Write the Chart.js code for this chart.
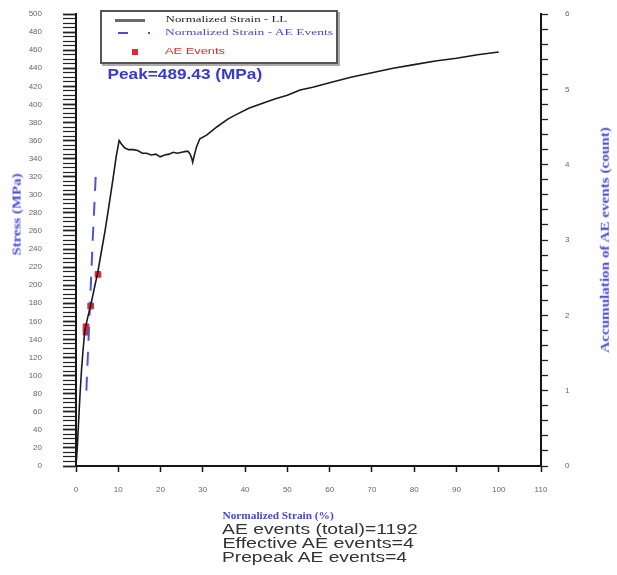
<!DOCTYPE html>
<html>
<head>
<meta charset="utf-8">
<script src="https://cdn.jsdelivr.net/npm/chart.js@4.4.0/dist/chart.umd.min.js"></script>
<style>
  body { margin: 0; background: #fff; }
  #wrap { position: relative; width: 617px; height: 575px; overflow: hidden; }
  #chart { position: absolute; left: 0; top: 0; }
  .lbl { position: absolute; white-space: nowrap; line-height: 1; transform-origin: center center; }
  #legend { position: absolute; left: 100px; top: 10px; width: 238px; height: 54px; box-sizing: border-box;
            border: 2px solid #555; box-shadow: 2px 2px 0 #aaa; background: #fff; }
  .sw { position: absolute; }
</style>
</head>
<body>
<div id="wrap">
  <canvas id="chart" width="617" height="575"></canvas>
  <div id="legend">
    <div class="sw" style="left:13px;top:7px;width:30px;height:3px;background:#6b6b6b"></div>
    <div class="sw" style="left:16px;top:20px;width:10px;height:2px;background:#4b4bdc"></div>
    <div class="sw" style="left:46px;top:20px;width:2px;height:2px;background:#4b4bdc"></div>
    <div class="sw" style="left:30px;top:37px;width:6px;height:6px;background:#e8262e"></div>
  </div>
</div>
<script>
// stress-strain curve (LL)
const strainLL = [0, 0.3, 0.55, 0.9, 1.3, 1.7, 2.1, 2.8, 3.5, 4.3, 5.1, 6.0, 6.9, 7.8, 8.7, 9.5, 10.2, 10.8, 11.5,
  12.4, 13.5, 14.6, 15.7, 16.7, 17.8, 18.9, 19.9, 21.0, 22.0, 23.0, 24.0, 25.0, 26.0, 26.5, 27.0, 27.4, 27.6, 27.9,
  28.5, 29.3, 30.9, 33.3, 36, 38, 41, 44, 47, 50, 53, 56, 60, 65, 70, 75, 80, 85, 90, 95, 100];
const stressLL = [0, 20, 43, 75, 106, 130, 150, 165, 178, 196, 213, 237, 261, 288, 316, 342, 360, 356, 352,
  350, 350, 349, 346, 346, 344, 345, 342, 344, 345, 347, 346, 347, 348, 348, 345, 340, 336, 342,
  353, 362, 366, 375, 384, 389, 396, 401, 406, 410, 416, 419, 424, 430, 435, 440, 444, 448, 451, 455, 458];

// cumulative AE events (right axis)
const aeCumStrain = [2.45, 3.2, 3.95, 4.73];
const aeCount = [1, 2, 3, 3.93];

// AE event markers on the curve
const aeStrain = [2.36, 2.36, 3.47, 5.2];
const aeStress = [154, 148, 177, 212];

const xTicksMax = 110;
const yTicksMax = 500;
const y1TicksMax = 6;

const pts = (xs, ys) => xs.map((x, i) => ({ x: x, y: ys[i] }));
const axisColor = '#151515';
const tickFont = { family: 'Liberation Sans', size: 8 };

// fixed box sizes so the plot area sits where it does in the original
const fitSide = (s) => { s.width = 76; s.paddingTop = 0; s.paddingBottom = 0; };

const chart = new Chart(document.getElementById('chart').getContext('2d'), {
  type: 'scatter',
  data: {
    datasets: [
      {
        label: 'Normalized Strain - LL',
        data: pts(strainLL, stressLL),
        showLine: true,
        borderColor: '#1a1a1a',
        borderWidth: 1.6,
        pointRadius: 0,
        yAxisID: 'y',
      },
      {
        label: 'Normalized Strain - AE Events',
        data: pts(aeCumStrain, aeCount),
        showLine: true,
        borderColor: '#5252e2',
        borderWidth: 2,
        borderDash: [14, 11],
        pointRadius: 0,
        yAxisID: 'y1',
      },
      {
        label: 'AE Events',
        data: pts(aeStrain, aeStress),
        pointStyle: 'rect',
        pointRadius: 4,
        backgroundColor: '#e8262e',
        borderColor: '#e8262e',
        yAxisID: 'y',
      },
    ]
  },
  options: {
    responsive: false,
    animation: false,
    devicePixelRatio: 1,
    layout: { autoPadding: false, padding: { top: 14, left: 0, right: 0, bottom: 0 } },
    plugins: { legend: { display: false }, tooltip: { enabled: false } },
    scales: {
      x: {
        type: 'linear',
        position: 'bottom',
        min: 0,
        max: xTicksMax,
        afterFit: (s) => { s.height = 109; },
        ticks: { stepSize: 10, autoSkip: false, maxRotation: 0, font: tickFont, color: '#666', padding: 13 },
        grid: { drawOnChartArea: false, tickLength: 6, tickColor: axisColor, tickWidth: 1.5 },
        border: { color: axisColor, width: 2 },
      },
      y: {
        position: 'left',
        min: 0,
        max: yTicksMax,
        afterFit: fitSide,
        ticks: {
          stepSize: 5, autoSkip: false, font: tickFont, color: '#666', padding: 21,
          callback: (v) => (v % 20 === 0 ? v : ''),
        },
        grid: {
          drawOnChartArea: false, tickLength: 13, tickColor: '#222',
          tickWidth: (c) => (c.tick && c.tick.value % 20 === 0 ? 1.8 : 1.2),
        },
        border: { color: axisColor, width: 2 },
      },
      y1: {
        position: 'right',
        min: 0,
        max: y1TicksMax,
        afterFit: fitSide,
        ticks: {
          stepSize: 0.2, autoSkip: false, font: tickFont, color: '#666', padding: 17,
          callback: (v) => (Math.abs(v - Math.round(v)) < 1e-6 ? Math.round(v) : ''),
        },
        grid: { drawOnChartArea: false, tickLength: 7, tickColor: '#222', tickWidth: 1.3 },
        border: { color: axisColor, width: 2 },
      },
    }
  }
});

// text labels, stretched along their length to the measured size
function place(text, cx, cy, len, font, color, rot) {
  const el = document.createElement('span');
  el.className = 'lbl';
  el.textContent = text;
  el.style.font = font;
  el.style.color = color;
  document.getElementById('wrap').appendChild(el);
  const w = el.offsetWidth, h = el.offsetHeight;
  el.style.left = (cx - w / 2) + 'px';
  el.style.top = (cy - h / 2) + 'px';
  el.style.transform = 'rotate(' + (rot || 0) + 'deg) scaleX(' + (len / w) + ')';
}

const serifB = (px) => 'bold ' + px + 'px "Liberation Serif", serif';
const sans = (px) => px + 'px "Liberation Sans", Arial, sans-serif';

// legend texts
place('Normalized Strain - LL', 165 + 61, 19, 122, '9px "Liberation Serif", serif', '#222');
place('Normalized Strain - AE Events', 165 + 84, 32, 168, '9px "Liberation Serif", serif', '#4646d8');
place('AE Events', 165 + 30, 51, 60, sans(9), '#e8262e');

place('Peak=489.43 (MPa)', 107 + 77.5, 74, 155, 'bold 14px "Liberation Sans", Arial, sans-serif', '#3838d2');

place('Stress (MPa)', 16.5, 214, 82, serifB(12), '#4a4ae6', -90);
place('Accumulation of AE events  (count)', 605, 240, 226, serifB(13), '#4a4ae6', -90);

place('Normalized Strain  (%)', 222 + 55.5, 515, 111, serifB(11), '#4646d8');
place('AE events (total)=1192', 222 + 98, 529, 196, sans(14), '#333');
place('Effective AE events=4', 222 + 95.5, 543, 191, sans(14), '#333');
place('Prepeak AE events=4', 222 + 92.5, 557, 185, sans(14), '#333');
</script>
</body>
</html>
